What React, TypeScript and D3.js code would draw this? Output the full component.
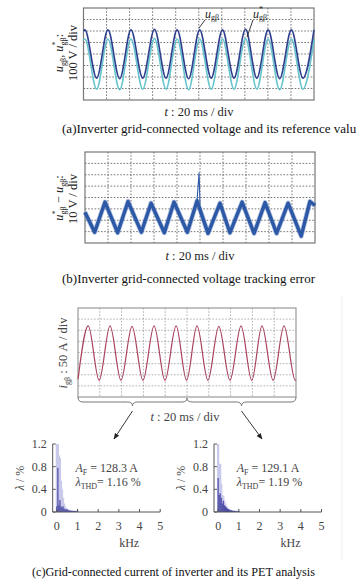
import React from 'react';
import * as d3 from 'd3';

const W = 356;
const H = 583;
const FONT = "'Liberation Serif', 'Times New Roman', serif";

// (a) grid-connected voltage u_gβ and its reference u*_gβ (extremes, in divisions)
const voltT = [0, 0.06, 0.57, 1.06, 1.57, 2.06, 2.57, 3.08, 3.58, 4.06, 4.56, 5.04, 5.54, 6.03, 6.53, 7.03, 7.52, 8.01, 8.51, 9.02, 9.52, 10];
const uGrid = [6.0, 6.1, 1.9, 6.1, 1.85, 6.1, 1.9, 6.15, 1.9, 6.1, 1.85, 6.1, 1.9, 6.1, 1.9, 6.15, 1.9, 6.1, 1.85, 6.1, 1.9, 6.1];
const uRef = [5.25, 5.3, 0.95, 5.3, 0.9, 5.3, 0.95, 5.35, 0.95, 5.3, 0.9, 5.3, 0.95, 5.3, 0.95, 5.35, 0.95, 5.3, 0.9, 5.3, 0.95, 5.3];

// (b) tracking error u*_gβ - u_gβ
const errT = [0, 0.42, 0.87, 1.42, 1.87, 2.45, 2.87, 3.45, 3.87, 4.45, 4.87, 5.35, 5.87, 6.3, 6.83, 7.35, 7.83, 8.33, 8.83, 9.4, 9.78, 10];
const errV = [2.7, 0.95, 3.6, 0.9, 3.65, 0.95, 3.5, 0.9, 3.6, 0.95, 3.7, 0.85, 3.5, 0.9, 3.6, 0.85, 3.55, 0.85, 3.5, 0.6, 3.65, 3.3];
const spikeT = [4.87, 4.96, 5.0];
const spikeV = [3.7, 6.2, 3.4];

// (c) grid-connected current i_gβ
const curT = [0, 0.47, 0.97, 1.47, 1.97, 2.48, 2.98, 3.49, 3.99, 4.5, 4.98, 5.46, 5.96, 6.46, 6.97, 7.48, 7.97, 8.44, 8.95, 9.45, 9.97, 10];
const curV = [1.6, 6.4, 1.5, 6.4, 1.5, 6.35, 1.5, 6.4, 1.5, 6.4, 1.5, 6.4, 1.5, 6.35, 1.5, 6.4, 1.5, 6.4, 1.5, 6.4, 1.5, 1.55];

// harmonic spectra, kHz / %
const harmFreq = [0, 0.05, 0.1, 0.15, 0.2, 0.25, 0.3, 0.35, 0.4, 0.45, 0.5, 0.55, 0.6, 0.65, 0.7, 0.75, 0.8, 0.85, 0.9, 0.95, 1.0];
const leftLight = [1.2, 1.2, 1.0, 0.95, 0.55, 0.4, 0.25, 0.15, 0.1, 0.07, 0.05, 0.04, 0.04, 0.03, 0.03, 0.02, 0.02, 0.02, 0.02, 0.02, 0.03];
const leftDark = [0.1, 0.78, 0.12, 0.21, 0.1, 0.08, 0.1, 0.06, 0.05, 0.04, 0.05, 0.03, 0.03, 0.02, 0.02, 0.02, 0.015, 0.02, 0.015, 0.01, 0.02];
const rightLight = [1.2, 0.85, 0.85, 0.5, 0.3, 0.28, 0.2, 0.15, 0.1, 0.08, 0.06, 0.05, 0.04, 0.03, 0.03, 0.02, 0.02, 0.02, 0.02, 0.02, 0.02];
const rightDark = [0.6, 0.3, 0.33, 0.25, 0.15, 0.2, 0.12, 0.1, 0.08, 0.06, 0.05, 0.04, 0.03, 0.03, 0.02, 0.02, 0.02, 0.015, 0.015, 0.01, 0.02];
const freqTicks = [0, 1, 2, 3, 4, 5];
const lamTicks = [0, 0.4, 0.8, 1.2];

const Scope = ({x, y, border, grid}) => {
    const [x0, x1] = x.range();
    const [y1, y0] = y.range();
    const xs = d3.range(1, 10).map(d => x(d));
    const ys = d3.range(1, 8).map(d => y(d));
    return (
        <g>
            {xs.map((v, i) => (
                <line key={'v' + i} x1={v} x2={v} y1={y0} y2={y1}
                    stroke={grid} strokeWidth={0.8} strokeDasharray="1.6,1.6" />
            ))}
            {ys.map((v, i) => (
                <line key={'h' + i} x1={x0} x2={x1} y1={v} y2={v}
                    stroke={grid} strokeWidth={0.8} strokeDasharray="1.6,1.6" />
            ))}
            <rect x={x0} y={y0} width={x1 - x0} height={y1 - y0}
                fill="none" stroke={border} strokeWidth={1.2} />
        </g>
    );
};

const Sub = ({children}) => <tspan fontSize={8} fontStyle="normal" dy={3}>{children}</tspan>;

const Spectrum = ({x0, light, dark, fund, thd}) => {
    const x = d3.scaleLinear().domain([-0.2, 5]).range([x0, x0 + 107.5]);
    const y = d3.scaleLinear().domain([0, 1.2]).range([512, 444]);
    const bw = 2.2;
    return (
        <g fontFamily={FONT} fill="#444">
            {light.map((v, i) => (
                <rect key={'l' + i} x={x(harmFreq[i]) - bw / 2} y={y(v)} width={bw}
                    height={y(0) - y(v)} fill="#c9c9ec" />
            ))}
            {dark.map((v, i) => (
                <rect key={'d' + i} x={x(harmFreq[i]) - 0.6} y={y(v)} width={1.2}
                    height={y(0) - y(v)} fill="#4b4ba6" />
            ))}
            <line x1={x(-0.2)} x2={x(-0.2)} y1={y(0)} y2={y(1.2)} stroke="#555" strokeWidth={1} />
            <line x1={x(-0.2)} x2={x(5)} y1={y(0)} y2={y(0)} stroke="#555" strokeWidth={1} />
            {lamTicks.map(t => (
                <g key={'y' + t}>
                    <line x1={x(-0.2)} x2={x(-0.2) + 3} y1={y(t)} y2={y(t)} stroke="#555" />
                    <text x={x(-0.2) - 6} y={y(t) + 4} textAnchor="end" fontSize={12}>
                        {t === 0 ? '0' : d3.format('.1f')(t)}
                    </text>
                </g>
            ))}
            {freqTicks.map(t => (
                <g key={'x' + t}>
                    <line x1={x(t)} x2={x(t)} y1={y(0)} y2={y(0) - 3} stroke="#555" />
                    <text x={x(t)} y={530} textAnchor="middle" fontSize={12}>{t}</text>
                </g>
            ))}
            <text x={x(3.5)} y={547} textAnchor="middle" fontSize={12}>kHz</text>
            <text transform={`translate(${x0 - 29},478) rotate(-90)`} textAnchor="middle" fontSize={12}>
                <tspan fontStyle="italic">λ</tspan> / %
            </text>
            <text x={x(0.9)} y={472} fontSize={12}>
                <tspan fontStyle="italic">A</tspan><Sub>F</Sub><tspan dy={-3}>{' = ' + fund + ' A'}</tspan>
            </text>
            <text x={x(0.9)} y={486} fontSize={12}>
                <tspan fontStyle="italic">λ</tspan><Sub>THD</Sub><tspan dy={-3}>{'= ' + thd + ' %'}</tspan>
            </text>
        </g>
    );
};

export default function App() {
    const xA = d3.scaleLinear().domain([0, 10]).range([83.5, 314]);
    const yA = d3.scaleLinear().domain([0, 8]).range([100, 8]);
    const xB = d3.scaleLinear().domain([0, 10]).range([85, 315]);
    const yB = d3.scaleLinear().domain([0, 8]).range([243, 152]);
    const xC = d3.scaleLinear().domain([0, 10]).range([78, 296]);
    const yC = d3.scaleLinear().domain([0, 8]).range([397, 308]);

    const smooth = (xs, ys) => d3.line().curve(d3.curveMonotoneX)
        .x((d, i) => xs(d[0])).y(d => ys(d[1]));
    const lineA = smooth(xA, yA);
    const lineC = smooth(xC, yC);
    const lineB = d3.line().x(d => xB(d[0])).y(d => yB(d[1]));

    const ptsGrid = voltT.map((t, i) => [t, uGrid[i]]);
    const ptsRef = voltT.map((t, i) => [t, uRef[i]]);
    const ptsErr = errT.map((t, i) => [t, errV[i]]);
    const ptsSpike = spikeT.map((t, i) => [t, spikeV[i]]);
    const ptsCur = curT.map((t, i) => [t, curV[i]]);

    // brace under the current trace
    const by = 402;
    const bx = [xC(0), xC(2.5), xC(5), xC(7.5), xC(10)];
    const brace = `M${bx[0]},${by - 5} Q${bx[0]},${by} ${bx[0] + 5},${by}`
        + ` L${bx[1] - 5},${by} Q${bx[1]},${by} ${bx[1]},${by + 4} Q${bx[1]},${by} ${bx[1] + 5},${by}`
        + ` L${bx[2] - 5},${by} Q${bx[2]},${by} ${bx[2]},${by - 4} Q${bx[2]},${by} ${bx[2] + 5},${by}`
        + ` L${bx[3] - 5},${by} Q${bx[3]},${by} ${bx[3]},${by + 4} Q${bx[3]},${by} ${bx[3] + 5},${by}`
        + ` L${bx[4] - 5},${by} Q${bx[4]},${by} ${bx[4]},${by - 5}`;

    return (
        <svg width={W} height={H} style={{position: 'absolute', left: 0, top: 0, background: '#fff'}}
            fontFamily={FONT}>
            <defs>
                <marker id="ah" viewBox="0 0 10 10" refX="9" refY="5" markerWidth="7" markerHeight="7"
                    orient="auto">
                    <path d="M0,1 L10,5 L0,9 Z" fill="#222" />
                </marker>
            </defs>

            {/* (a) */}
            <Scope x={xA} y={yA} border="#777" grid="#555" />
            <path d={lineA(ptsRef)} fill="none" stroke="#66c5cc" strokeWidth={1.6} />
            <path d={lineA(ptsGrid)} fill="none" stroke="#2f3f8e" strokeWidth={1.6} />
            <line x1={205} y1={20} x2={199} y2={28} stroke="#222" strokeWidth={0.9} />
            <line x1={253} y1={20} x2={247} y2={37} stroke="#222" strokeWidth={0.9} />
            <text x={205} y={18} fontSize={12} fill="#222">
                <tspan fontStyle="italic">u</tspan><tspan fontSize={8} dy={2}>gβ</tspan>
            </text>
            <text x={253} y={18} fontSize={12} fill="#222">
                <tspan fontStyle="italic">u</tspan><tspan fontSize={8} dy={-6}>*</tspan>
                <tspan fontSize={8} dx={-4} dy={8}>gβ</tspan>
            </text>
            <text transform="translate(63,53) rotate(-90)" textAnchor="middle" fontSize={12.5} fill="#222">
                <tspan fontStyle="italic">u</tspan><Sub>gβ</Sub><tspan dy={-3}>, </tspan>
                <tspan fontStyle="italic">u</tspan><tspan fontSize={8} dy={-5}>*</tspan>
                <tspan fontSize={8} dx={-4} dy={8}>gβ</tspan><tspan dy={-3}>:</tspan>
            </text>
            <text transform="translate(77,53) rotate(-90)" textAnchor="middle" fontSize={12.5} fill="#222">
                100 V / div
            </text>
            <text x={199} y={116} textAnchor="middle" fontSize={12.5} fill="#222">
                <tspan fontStyle="italic">t</tspan> : 20 ms / div
            </text>
            <text x={62} y={133} fontSize={12} fill="#111" textLength={300} lengthAdjust="spacingAndGlyphs">
                (a)Inverter grid-connected voltage and its reference value
            </text>

            {/* (b) */}
            <Scope x={xB} y={yB} border="#777" grid="#555" />
            <path d={lineB(ptsErr)} fill="none" stroke="#5a7fc2" strokeWidth={5}
                strokeLinejoin="round" opacity={0.45} />
            <path d={lineB(ptsErr)} fill="none" stroke="#2c58a6" strokeWidth={3.4}
                strokeLinejoin="round" />
            <path d={lineB(ptsSpike)} fill="none" stroke="#2c58a6" strokeWidth={1.1} />
            <text transform="translate(63,198) rotate(-90)" textAnchor="middle" fontSize={12.5} fill="#222">
                <tspan fontStyle="italic">u</tspan><tspan fontSize={8} dy={-5}>*</tspan>
                <tspan fontSize={8} dx={-4} dy={8}>gβ</tspan><tspan dy={-3}> − </tspan>
                <tspan fontStyle="italic">u</tspan><Sub>gβ</Sub><tspan dy={-3}>:</tspan>
            </text>
            <text transform="translate(77,199) rotate(-90)" textAnchor="middle" fontSize={12.5} fill="#222">
                10 V / div
            </text>
            <text x={200} y={260} textAnchor="middle" fontSize={12.5} fill="#222">
                <tspan fontStyle="italic">t</tspan> : 20 ms / div
            </text>
            <text x={62} y={283} fontSize={12} fill="#111" textLength={253} lengthAdjust="spacingAndGlyphs">
                (b)Inverter grid-connected voltage tracking error
            </text>

            {/* (c) */}
            <line x1={342} x2={342} y1={296} y2={560} stroke="#f0f0f0" strokeWidth={1} />
            <Scope x={xC} y={yC} border="#999" grid="#9a9a9a" />
            <path d={lineC(ptsCur)} fill="none" stroke="#a8435e" strokeWidth={1.2} />
            <path d={brace} fill="none" stroke="#777" strokeWidth={1} />
            <text transform="translate(67,353) rotate(-90)" textAnchor="middle" fontSize={12.5} fill="#444">
                <tspan fontStyle="italic">i</tspan><Sub>gβ</Sub><tspan dy={-3}> : 50 A / div</tspan>
            </text>
            <text x={185} y={421} textAnchor="middle" fontSize={12.5} fill="#444">
                <tspan fontStyle="italic">t</tspan> : 20 ms / div
            </text>
            <line x1={bx[1]} y1={411} x2={114} y2={439} stroke="#222" strokeWidth={0.9} markerEnd="url(#ah)" />
            <line x1={bx[3]} y1={411} x2={262} y2={439} stroke="#222" strokeWidth={0.9} markerEnd="url(#ah)" />

            <Spectrum x0={52.7} light={leftLight} dark={leftDark} fund="128.3" thd="1.16" />
            <Spectrum x0={214} light={rightLight} dark={rightDark} fund="129.1" thd="1.19" />

            <text x={32} y={576} fontSize={12} fill="#111" textLength={283} lengthAdjust="spacingAndGlyphs">
                (c)Grid-connected current of inverter and its PET analysis
            </text>
        </svg>
    );
}
